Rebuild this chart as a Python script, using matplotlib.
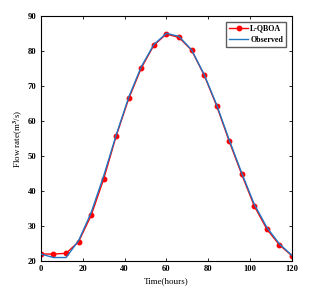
import matplotlib
matplotlib.use("Agg")
import matplotlib.pyplot as plt

time_hours = [0, 6, 12, 18, 24, 30, 36, 42, 48, 54, 60, 66, 72, 78, 84, 90, 96, 102, 108, 114, 120]
lqboa = [22.0, 22.0, 22.2, 25.5, 33.0, 43.4, 55.7, 66.4, 75.1, 81.6, 84.8, 83.8, 80.2, 73.1, 64.3, 54.2, 44.7, 35.7, 29.1, 24.6, 21.5]
observed = [22.0, 21.0, 21.0, 25.8, 33.8, 44.3, 56.0, 66.8, 75.5, 81.8, 85.0, 84.1, 80.3, 73.3, 64.6, 54.6, 45.1, 36.2, 29.6, 24.9, 21.6]
xticks = [0, 20, 40, 60, 80, 100, 120]
yticks = [20, 30, 40, 50, 60, 70, 80, 90]

plt.rcParams['font.family'] = ['Liberation Serif', 'DejaVu Serif']
plt.rcParams['mathtext.fontset'] = 'stix'
plt.rcParams['font.weight'] = 'bold'

fig = plt.figure(figsize=(3.17, 2.92), dpi=100)
ax = fig.add_axes([0.129, 0.106, 0.792, 0.840])

ax.plot(time_hours, lqboa, color='red', lw=1.0, marker='o', ms=3.2, label='L-QBOA', zorder=2)
ax.plot(time_hours, observed, color='#1f77c4', lw=1.0, label='Observed', zorder=3)

ax.set_xlim(0, 120)
ax.set_ylim(20, 90)
ax.set_xticks(xticks)
ax.set_yticks(yticks)
ax.tick_params(direction='in', top=True, right=True, labelsize=6.2, length=2.5, width=0.6, pad=3)
for s in ax.spines.values():
    s.set_linewidth(0.8)

ax.set_xlabel('Time(hours)', fontsize=6.5, labelpad=3)
ax.set_ylabel(r'Flow rate(m$^{\mathbf{3}}$/s)', fontsize=6.5, labelpad=2)

leg = ax.legend(loc='upper right', frameon=True, fancybox=False,
                edgecolor='#333333', handlelength=2.4, borderpad=0.35, labelspacing=0.45,
                handletextpad=0.25, borderaxespad=0.75, prop={'weight': 'bold', 'size': 5.8})
leg.get_frame().set_linewidth(1.0)

fig.savefig('out.png', dpi=100)
